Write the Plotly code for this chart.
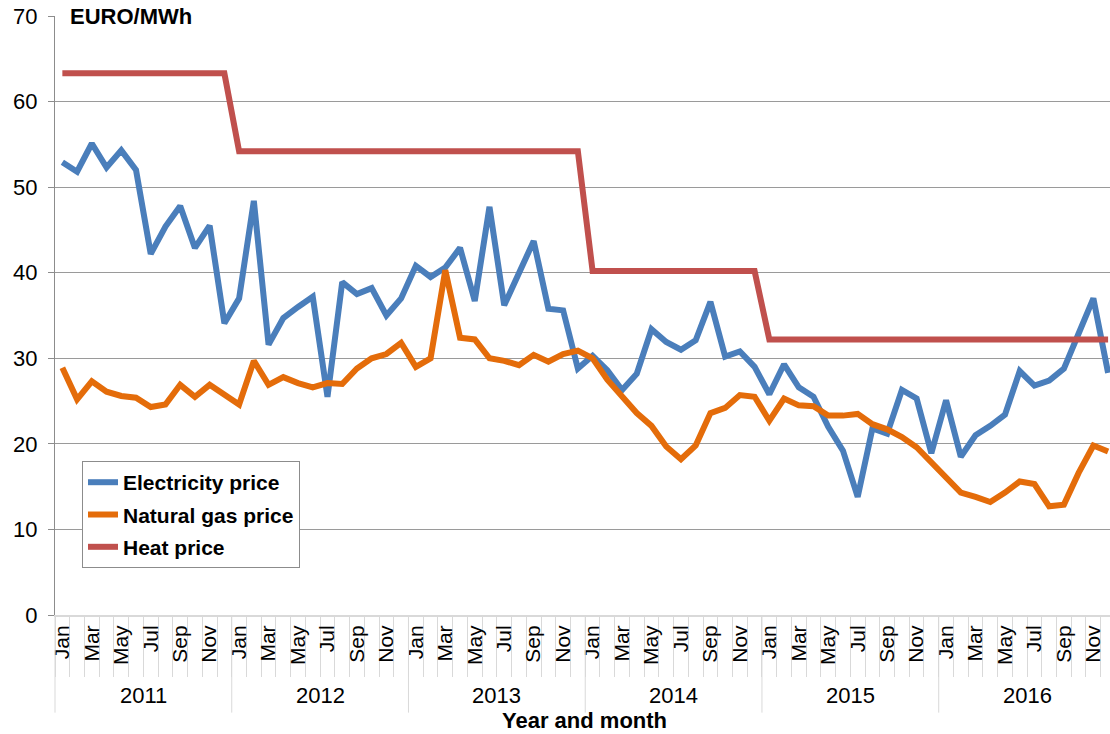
import plotly.graph_objects as go

years = [2011, 2012, 2013, 2014, 2015, 2016]
months = ["Jan", "Feb", "Mar", "Apr", "May", "Jun", "Jul", "Aug", "Sep", "Oct", "Nov", "Dec"]

electricity = [
    52.9, 51.8, 55.1, 52.3, 54.3, 52.0, 42.2, 45.4, 47.8, 42.9, 45.5, 34.1,
    37.0, 48.4, 31.6, 34.7, 36.0, 37.2, 25.5, 38.9, 37.5, 38.2, 35.0, 37.0,
    40.8, 39.5, 40.6, 42.9, 36.7, 47.7, 36.2, 40.0, 43.7, 35.8, 35.6, 28.8,
    30.3, 28.6, 26.3, 28.2, 33.4, 31.9, 31.0, 32.1, 36.6, 30.2, 30.8, 29.0,
    25.8, 29.3, 26.6, 25.5, 22.0, 19.2, 13.8, 21.8, 21.2, 26.3, 25.3, 18.9,
    25.1, 18.5, 21.0, 22.1, 23.4, 28.5, 26.8, 27.4, 28.8, 32.9, 37.0, 28.3,
]
natural_gas = [
    28.9, 25.2, 27.3, 26.1, 25.6, 25.4, 24.3, 24.6, 26.9, 25.5, 26.9, 25.7,
    24.6, 29.7, 26.9, 27.8, 27.1, 26.6, 27.1, 27.0, 28.8, 30.0, 30.5, 31.8,
    29.0, 30.0, 40.3, 32.4, 32.2, 30.0, 29.7, 29.2, 30.4, 29.6, 30.5, 30.9,
    30.0, 27.5, 25.5, 23.6, 22.1, 19.7, 18.2, 19.8, 23.6, 24.2, 25.7, 25.5,
    22.7, 25.3, 24.5, 24.4, 23.3, 23.3, 23.5, 22.3, 21.7, 20.8, 19.6, 17.9,
    16.2, 14.3, 13.8, 13.2, 14.3, 15.6, 15.3, 12.7, 12.9, 16.6, 19.8, 19.1,
]
heat = [63.3] * 12 + [54.2] * 24 + [40.2] * 12 + [32.2] * 24

n = len(years) * len(months)
x = list(range(n))
month_labels = [months[i % 12] for i in range(n)]

FONT = "Arial, Liberation Sans, sans-serif"

fig = go.Figure()
series = [
    ("Electricity price", electricity, "#4A7EBB"),
    ("Natural gas price", natural_gas, "#E46C0A"),
    ("Heat price", heat, "#C0504D"),
]
for i, (name, vals, col) in enumerate(series):
    fig.add_trace(go.Scatter(
        x=x, y=vals, mode="lines", name=name, legendgroup=f"g{i}",
        line=dict(color=col, width=6),
    ))

XMIN, XMAX = -0.5, 71.13

tickvals = [i for i in range(n) if i % 2 == 0]
ticktext = [month_labels[i] for i in tickvals]

fig.update_layout(
    width=1110, height=734,
    margin=dict(l=55, r=0, t=16, b=119),
    paper_bgcolor="white", plot_bgcolor="white",
    font=dict(family=FONT, color="black"),
    showlegend=True,
    legend=dict(
        x=0.0256, y=0.257, xanchor="left", yanchor="top",
        bgcolor="white", bordercolor="#8c8c8c", borderwidth=1,
        font=dict(family=FONT, size=21, color="black", weight="bold"),
        tracegroupgap=2, itemwidth=30,
    ),
    xaxis=dict(
        range=[XMIN, XMAX],
        tickmode="array", tickvals=tickvals, ticktext=ticktext,
        tickangle=-90, ticks="", showgrid=False,
        tickfont=dict(family=FONT, size=21, color="black"),
        showline=True, linecolor="#d9d9d9", linewidth=2,
        zeroline=False,
        minor=dict(
            tickmode="array", tickvals=[k - 0.5 for k in range(n + 1)],
            ticks="outside", ticklen=60, tickcolor="#d9d9d9", tickwidth=1,
            showgrid=False,
        ),
    ),
    yaxis=dict(
        range=[0, 70], tickmode="linear", tick0=0, dtick=10,
        showgrid=True, gridcolor="#9a9a9a", gridwidth=1,
        showline=True, linecolor="#8c8c8c", linewidth=1,
        ticks="outside", ticklen=6, tickcolor="#8c8c8c",
        tickfont=dict(family=FONT, size=22, color="black"),
        ticklabelstandoff=6,
        zeroline=False,
    ),
)

# Year separators and year labels under the month labels
span = XMAX - XMIN
for k, yr in enumerate(years):
    xb = (k * 12 - 0.5 - XMIN) / span
    fig.add_shape(type="line", xref="paper", yref="paper",
                  x0=xb, x1=xb, y0=0, y1=-0.163,
                  line=dict(color="#d9d9d9", width=1))
    fig.add_annotation(x=k * 12 + 5.5, xref="x", y=-0.134, yref="paper",
                       text=str(yr), showarrow=False, yanchor="middle",
                       font=dict(family=FONT, size=22, color="black"))

fig.add_annotation(x=0.502, xref="paper", y=-0.176, yref="paper",
                   text="<b>Year and month</b>", showarrow=False,
                   yanchor="middle",
                   font=dict(family=FONT, size=22, color="black"))

fig.add_annotation(x=0.011, xref="paper", y=1.0, yref="paper",
                   text="<b>EURO/MWh</b>", showarrow=False,
                   xanchor="left", yanchor="middle", bgcolor="white",
                   borderpad=2,
                   font=dict(family=FONT, size=22, color="black"))

fig.write_html("out.html", config={"displayModeBar": False},
               post_script="document.body.style.margin='0px';")
